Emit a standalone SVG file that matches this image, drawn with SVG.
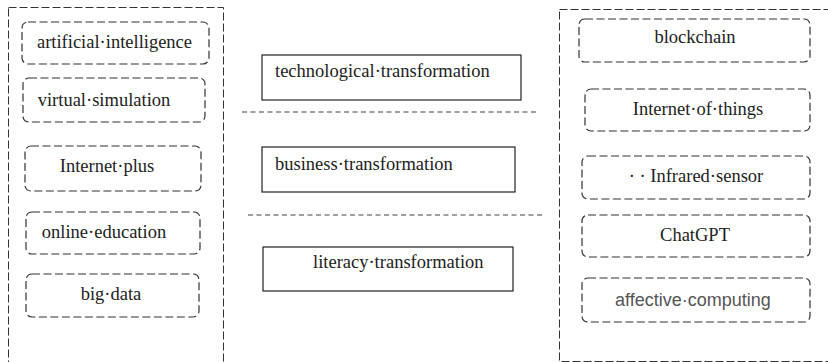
<svg xmlns="http://www.w3.org/2000/svg" width="828" height="362" viewBox="0 0 828 362">
<style>
.outer{fill:none;stroke:#333;stroke-width:1;stroke-dasharray:8 3}
.dbox{fill:#fff;stroke:#333;stroke-width:1.2;stroke-dasharray:8 3.5}
.sbox{fill:#fff;stroke:#222;stroke-width:1.2}
.sep{fill:none;stroke:#444;stroke-width:1.2;stroke-dasharray:5 3.5}
.t{font-family:'Liberation Serif','Times New Roman','DejaVu Serif',serif;font-size:18.5px;fill:#222}
.c{text-anchor:middle}
.sans{font-family:'Liberation Sans',Arial,sans-serif;font-size:18px;fill:#555}
</style>
<rect class="outer" x="8.5" y="7.5" width="215" height="356"/>
<rect class="outer" x="559.5" y="9.5" width="280" height="352"/>
<g id="ai"><rect class="dbox" x="22" y="22" width="187" height="42" rx="6"/><text class="t c" x="114.5" y="48">artificial·intelligence</text></g>
<g id="vs"><rect class="dbox" x="23" y="78" width="182" height="44" rx="6"/><text class="t c" x="104" y="106">virtual·simulation</text></g>
<g id="ip"><rect class="dbox" x="25" y="146" width="176" height="45" rx="6"/><text class="t c" x="107" y="172">Internet·plus</text></g>
<g id="oe"><rect class="dbox" x="26" y="212" width="174" height="42" rx="6"/><text class="t c" x="104" y="238">online·education</text></g>
<g id="bd"><rect class="dbox" x="26" y="274" width="173" height="43" rx="6"/><text class="t c" x="111" y="300">big·data</text></g>
<g id="tt"><rect class="sbox" x="262" y="55" width="259" height="45"/><text class="t" x="275" y="77">technological·transformation</text></g>
<g id="bt"><rect class="sbox" x="262" y="147" width="253" height="45"/><text class="t" x="275" y="170">business·transformation</text></g>
<g id="lt"><rect class="sbox" x="263" y="247" width="250" height="44"/><text class="t" x="313" y="268">literacy·transformation</text></g>
<g id="connectors">
<line class="sep" x1="242" y1="112" x2="537" y2="112"/>
<line class="sep" x1="248" y1="215" x2="543" y2="215"/>
</g>
<g id="bc"><rect class="dbox" x="579" y="19" width="231" height="43" rx="6"/><text class="t c" x="695" y="43">blockchain</text></g>
<g id="iot"><rect class="dbox" x="585" y="89" width="225" height="42" rx="6"/><text class="t c" x="698" y="115">Internet·of·things</text></g>
<g id="irs"><rect class="dbox" x="582" y="156" width="228" height="43" rx="6"/><text class="t c" x="696" y="182">· · Infrared·sensor</text></g>
<g id="gpt"><rect class="dbox" x="582" y="215" width="228" height="42" rx="6"/><text class="t c" x="695" y="241">ChatGPT</text></g>
<g id="ac"><rect class="dbox" x="582" y="278" width="228" height="44" rx="6"/><text class="c sans" x="693" y="306">affective·computing</text></g>
</svg>
